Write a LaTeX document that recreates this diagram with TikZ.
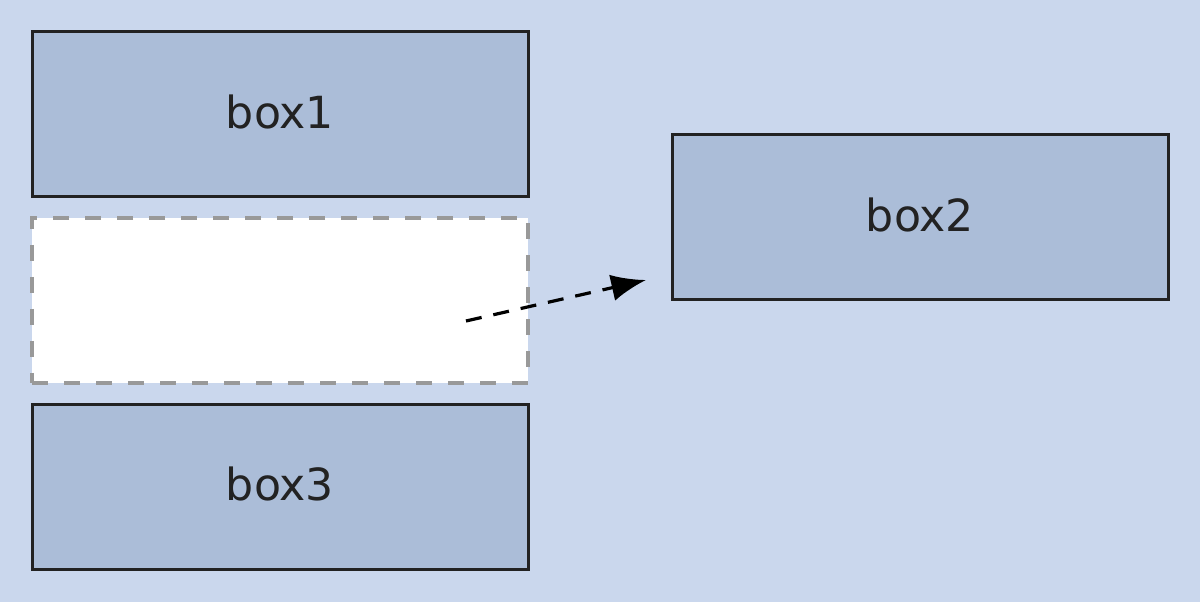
\documentclass[tikz,border=0pt]{standalone}
\usepackage{fontspec}
\setmainfont{DejaVu Sans}
\usetikzlibrary{arrows.meta}
\definecolor{bgc}{HTML}{CAD7ED}
\definecolor{boxc}{HTML}{ABBDD8}
\definecolor{edgec}{HTML}{222222}
\definecolor{dashc}{HTML}{999999}
\newcommand{\boxlabel}[1]{\raisebox{4.5pt}{#1}}
\begin{document}
\begin{tikzpicture}[x=0.75pt,y=-0.75pt,
  boxst/.style={draw=edgec,fill=boxc,line width=2.25pt,minimum width=496*0.75pt,minimum height=165*0.75pt,inner sep=0pt,font=\fontsize{33.2}{38}\selectfont,text=edgec},
  ghost/.style={draw=dashc,fill=white,line width=3pt,dash pattern=on 12pt off 12pt,minimum width=496*0.75pt,minimum height=165*0.75pt,inner sep=0pt},
  link/.style={draw=black,line width=2.4pt,dash pattern=on 12pt off 9pt,-{Latex[length=26pt,width=20pt]}}]
\fill[bgc] (0,0) rectangle (1200,602);
\useasboundingbox (0,0) rectangle (1200,602);
\node[boxst] (box1) at (280,114.5) {\boxlabel{box1}};
\node[ghost] (slot) at (280,300.5) {};
\node[boxst] (box3) at (280,486.5) {\boxlabel{box3}};
\node[boxst] (box2) at (920,217.5) {\boxlabel{box2}};
\coordinate (from) at (466,321);
\coordinate (to) at (646,280);
\draw[link] (from) -- (to);
\end{tikzpicture}
\end{document}
